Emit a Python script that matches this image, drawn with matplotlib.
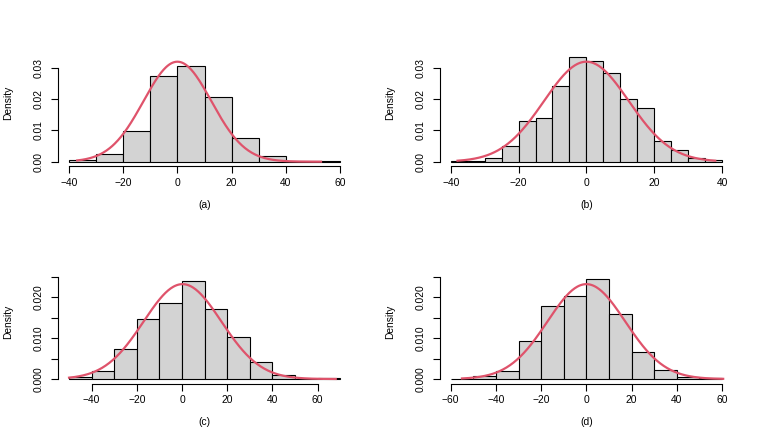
import numpy as np
import matplotlib
matplotlib.use("Agg")
import matplotlib.pyplot as plt

plt.rcParams["font.family"] = ["Liberation Sans", "DejaVu Sans"]
plt.rcParams["font.size"] = 7.4

# ── data (density per bin) ───────────────────────────────────────────────────

a_breaks  = [-40, -30, -20, -10, 0, 10, 20, 30, 40, 50, 60]
a_density = [0.0005, 0.0024, 0.0099, 0.0272, 0.0304, 0.0208, 0.0075, 0.0017, 0.0002, 0.0001]
a_mean, a_sd, a_from, a_to = 0.0, 12.5, -37, 53

b_breaks  = [-40, -35, -30, -25, -20, -15, -10, -5, 0, 5, 10, 15, 20, 25, 30, 35, 40]
b_density = [0.0002, 0.0002, 0.0013, 0.0049, 0.0129, 0.0138, 0.0240, 0.0333,
             0.0320, 0.0284, 0.0201, 0.0171, 0.0067, 0.0036, 0.0012, 0.0007]
b_mean, b_sd, b_from, b_to = 0.0, 12.5, -38, 38

c_breaks  = [-50, -40, -30, -20, -10, 0, 10, 20, 30, 40, 50, 60, 70]
c_density = [0.0004, 0.0019, 0.0073, 0.0146, 0.0185, 0.0240, 0.0171, 0.0102,
             0.0041, 0.0009, 0.0000, 0.0002]
c_mean, c_sd, c_from, c_to = 0.2, 17.2, -50, 68

d_breaks  = [-60, -50, -40, -30, -20, -10, 0, 10, 20, 30, 40, 50, 60]
d_density = [0.0001, 0.0007, 0.0019, 0.0092, 0.0179, 0.0204, 0.0245, 0.0158,
             0.0065, 0.0021, 0.0004, 0.0002]
d_mean, d_sd, d_from, d_to = 0.0, 17.2, -55, 60.5

sub_labels = ["(a)", "(b)", "(c)", "(d)"]

# ── layout (pixels of a 763x436 canvas) ──────────────────────────────────────

W, H = 763, 436
fig = plt.figure(figsize=(W / 100, H / 100), dpi=100)

top_row = dict(top=40.0, bottom=166.3, ylim=(-0.00147, 0.03884),
               yticks=[0, 0.01, 0.02, 0.03],
               ylabels=["0.00", "0.01", "0.02", "0.03"])
bot_row = dict(top=259.4, bottom=383.6, ylim=(-0.00112, 0.02924),
               yticks=[0, 0.005, 0.010, 0.015, 0.020, 0.025],
               ylabels=["0.000", "", "0.010", "", "0.020", ""])

panels = [
    (a_breaks, a_density, (a_mean, a_sd, a_from, a_to), (58.2, 350.8), (-44, 64),
     [-40, -20, 0, 20, 40, 60], top_row),
    (b_breaks, b_density, (b_mean, b_sd, b_from, b_to), (439.9, 732.9), (-43.2, 43.2),
     [-40, -20, 0, 20, 40], top_row),
    (c_breaks, c_density, (c_mean, c_sd, c_from, c_to), (58.2, 351.1), (-54.8, 74.8),
     [-40, -20, 0, 20, 40, 60], bot_row),
    (d_breaks, d_density, (d_mean, d_sd, d_from, d_to), (439.8, 732.9), (-64.8, 64.8),
     [-60, -40, -20, 0, 20, 40, 60], bot_row),
]

for (breaks, dens, curve, (lpx, rpx), xlim, xticks, row), lab in zip(panels, sub_labels):
    wpx = rpx - lpx
    hpx = row["bottom"] - row["top"]
    ax = fig.add_axes([lpx / W, 1 - row["bottom"] / H, wpx / W, hpx / H])

    edges = np.array(breaks, dtype=float)
    ax.bar(edges[:-1], dens, width=np.diff(edges), align="edge",
           color="#D3D3D3", edgecolor="black", linewidth=0.8, zorder=1)

    # fitted normal curve
    mu, sd, lo, hi = curve
    xs = np.linspace(lo, hi, 300)
    ax.plot(xs, np.exp(-0.5 * ((xs - mu) / sd) ** 2) / (sd * np.sqrt(2 * np.pi)),
            color="#DF536B", linewidth=1.6, zorder=2)

    ax.set_xlim(*xlim)
    ax.set_ylim(*row["ylim"])
    ax.set_xticks(xticks)
    ax.set_yticks(row["yticks"])
    ax.set_yticklabels(row["ylabels"], rotation=90, va="center")

    # R-style detached axes
    for s in ("top", "right"):
        ax.spines[s].set_visible(False)
    ax.spines["left"].set_bounds(row["yticks"][0], row["yticks"][-1])
    ax.spines["bottom"].set_bounds(xticks[0], xticks[-1])
    for s in ("left", "bottom"):
        ax.spines[s].set_linewidth(0.8)

    ax.tick_params(axis="both", length=5, width=0.8, color="black")
    ax.tick_params(axis="x", pad=3.5)
    ax.tick_params(axis="y", pad=5.5)

    ax.set_ylabel("Density")
    ax.yaxis.set_label_coords(-45 / wpx, 0.5)
    ax.set_xlabel(lab)
    ax.xaxis.set_label_coords(0.5, -33.5 / hpx)

fig.savefig("out.png", dpi=100)
